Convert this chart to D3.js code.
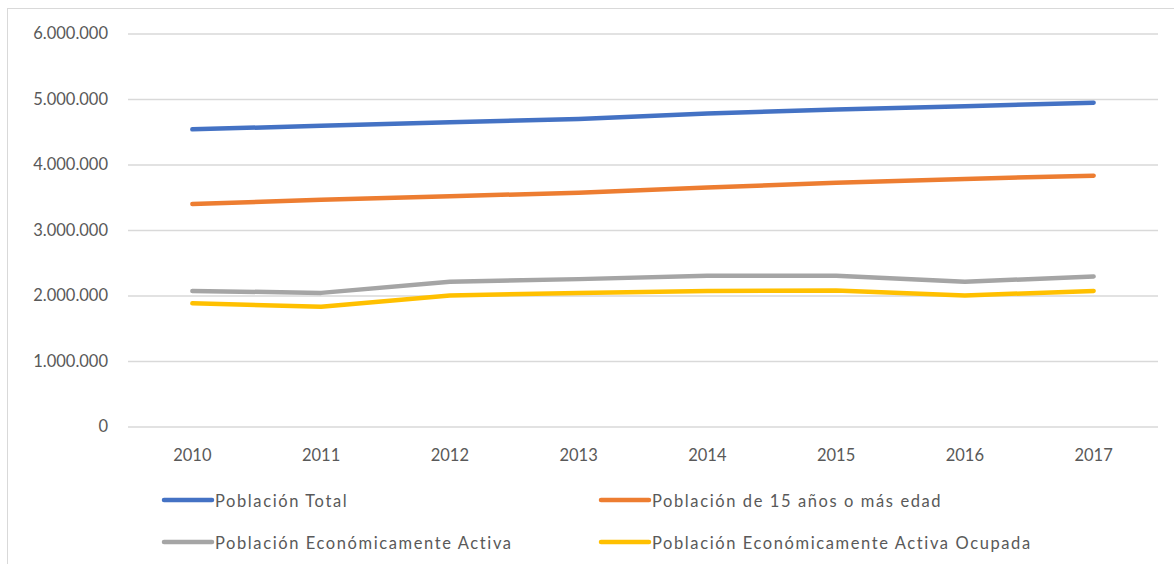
<!DOCTYPE html>
<html>
<head>
<meta charset="utf-8">
<script src="https://cdn.jsdelivr.net/npm/d3@7"></script>
<style>
  body { margin: 0; background: #fff; }
  text { font-family: Lato, "Noto Sans", sans-serif; fill: #595959; }
</style>
</head>
<body>
<svg id="chart" width="1174" height="564"></svg>
<script>
// data
var years = ["2010", "2011", "2012", "2013", "2014", "2015", "2016", "2017"];
var total = [4537000, 4590000, 4644000, 4695000, 4780000, 4840000, 4890000, 4943000];
var mayores15 = [3397000, 3460000, 3515000, 3570000, 3650000, 3720000, 3780000, 3830000];
var pea = [2070000, 2040000, 2210000, 2250000, 2300000, 2300000, 2210000, 2290000];
var peaOcupada = [1880000, 1830000, 2000000, 2040000, 2070000, 2075000, 2000000, 2070000];
var yTicks = [0, 1000000, 2000000, 3000000, 4000000, 5000000, 6000000];

var series = [
  {name: "Población Total", values: total, color: "#4472C4"},
  {name: "Población de 15 años o más edad", values: mayores15, color: "#ED7D31"},
  {name: "Población Económicamente Activa", values: pea, color: "#A5A5A5"},
  {name: "Población Económicamente Activa Ocupada", values: peaOcupada, color: "#FFC000"}
];

var svg = d3.select("#chart");
var plotLeft = 128, plotRight = 1158, plotTop = 33.5, plotBottom = 426.5; //plot area in px

// chart border
svg.append("rect")
    .attr("x", 7.5).attr("y", 8.5)
    .attr("width", 1180).attr("height", 570)
    .attr("fill", "none")
    .attr("stroke", "#D9D9D9");

var x = d3.scaleBand().domain(years).range([plotLeft, plotRight]);
var y = d3.scaleLinear().domain([0, 6000000]).range([plotBottom, plotTop]);

var locale = d3.formatLocale({decimal: ",", thousands: ".", grouping: [3], currency: ["", ""]});
var fmt = locale.format(",d");

// gridlines + y labels
var yAxis = svg.append("g")
    .attr("transform", "translate(" + plotLeft + ",0)")
    .call(d3.axisLeft(y).tickValues(yTicks).tickFormat(fmt).tickSize(-(plotRight - plotLeft)).tickPadding(20));
yAxis.select(".domain").remove();
yAxis.selectAll(".tick line").attr("stroke", "#D9D9D9").attr("stroke-width", 1.3);
yAxis.selectAll(".tick text").attr("font-size", 16.5).attr("fill", "#595959");

// x labels
var xAxis = svg.append("g")
    .attr("transform", "translate(0," + plotBottom + ")")
    .call(d3.axisBottom(x).tickSize(0).tickPadding(23));
xAxis.select(".domain").remove();
xAxis.selectAll(".tick text").attr("font-size", 16.5).attr("fill", "#595959");

// lines
var line = d3.line()
    .x(function(d, i) { return x(years[i]) + x.bandwidth() / 2; })
    .y(function(d) { return y(d); });

series.forEach(function(s) {
    svg.append("path")
        .attr("d", line(s.values))
        .attr("fill", "none")
        .attr("stroke", s.color)
        .attr("stroke-width", 4.5)
        .attr("stroke-linecap", "round")
        .attr("stroke-linejoin", "round");
});

// legend, 2 columns
var legendX = [164, 601], legendY = [500, 542];
series.forEach(function(s, i) {
    var lx = legendX[i % 2], ly = legendY[Math.floor(i / 2)];
    svg.append("line")
        .attr("x1", lx).attr("x2", lx + 48)
        .attr("y1", ly).attr("y2", ly)
        .attr("stroke", s.color)
        .attr("stroke-width", 4.5)
        .attr("stroke-linecap", "round");
    svg.append("text")
        .attr("x", lx + 51)
        .attr("y", ly + 1)
        .attr("dy", "0.35em")
        .attr("font-size", 16.5)
        .attr("letter-spacing", 1.6)
        .text(s.name);
});
</script>
</body>
</html>
